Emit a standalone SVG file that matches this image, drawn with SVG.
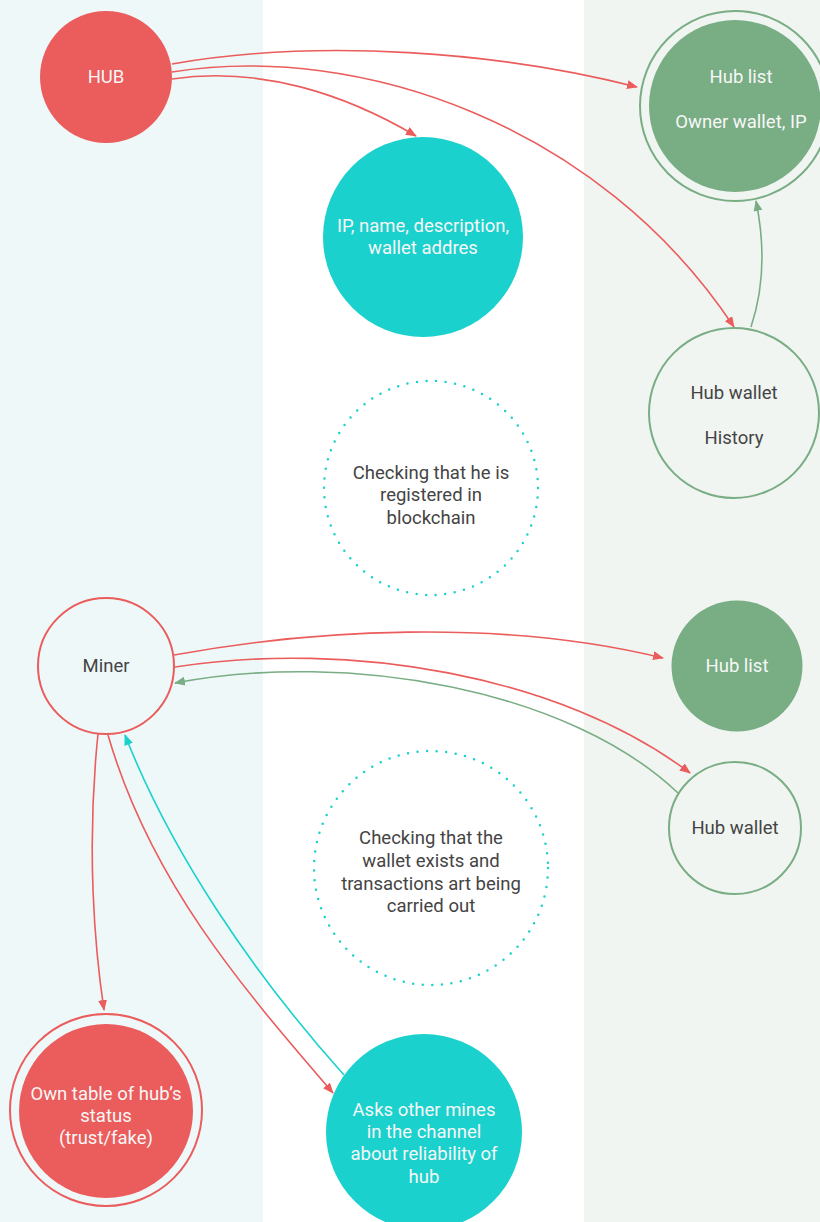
<svg xmlns="http://www.w3.org/2000/svg" width="820" height="1222" viewBox="0 0 820 1222">
<style>
text{font-family:Roboto,"Liberation Sans",sans-serif;font-size:18.5px;text-anchor:middle;dominant-baseline:central}
.w{fill:#f7f7f7}
.d{fill:#444444}
.red{fill:#eb5c5c}
.teal{fill:#1ad1cd}
.green{fill:#79ad84}
.ro{fill:none;stroke:#eb5c5c;stroke-width:2}
.go{fill:none;stroke:#79ad84;stroke-width:2}
.dot{fill:none;stroke:#1ad1cd;stroke-width:2.5;stroke-linecap:round;stroke-dasharray:0 9.6}
.cr{fill:none;stroke:#eb5c5c;stroke-width:1.6}
.cg{fill:none;stroke:#79ad84;stroke-width:1.6}
.ct{fill:none;stroke:#1ad1cd;stroke-width:1.6}
</style>
<defs>
<marker id="ar" markerWidth="11" markerHeight="9" refX="10" refY="4.5" orient="auto" markerUnits="userSpaceOnUse"><path d="M0,0 L11,4.5 L0,9 z" fill="#eb5c5c"/></marker>
<marker id="ag" markerWidth="11" markerHeight="9" refX="10" refY="4.5" orient="auto" markerUnits="userSpaceOnUse"><path d="M0,0 L11,4.5 L0,9 z" fill="#79ad84"/></marker>
<marker id="at" markerWidth="11" markerHeight="9" refX="10" refY="4.5" orient="auto" markerUnits="userSpaceOnUse"><path d="M0,0 L11,4.5 L0,9 z" fill="#1ad1cd"/></marker>
</defs>
<g id="bands">
<rect x="0" y="0" width="263" height="1222" fill="#eef8f9"/>
<rect x="263" y="0" width="321" height="1222" fill="#ffffff"/>
<rect x="584" y="0" width="236" height="1222" fill="#f0f5f2"/>
</g>
<g id="connectors">
<path class="cr" d="M172,64 C320,38 500,52 637,87" marker-end="url(#ar)"/>
<path class="cr" d="M172,72 C360,42 600,125 734,327" marker-end="url(#ar)"/>
<path class="cr" d="M172,79 C260,66 345,94 416,136" marker-end="url(#ar)"/>
<path class="cg" d="M751,327 C765,285 764,240 756,201" marker-end="url(#ag)"/>
<path class="cr" d="M174,655 C310,630 500,618 663,658" marker-end="url(#ar)"/>
<path class="cr" d="M175,667 C350,640 560,675 690,773" marker-end="url(#ar)"/>
<path class="cg" d="M678,793 C570,690 350,650 175,683" marker-end="url(#ag)"/>
<path class="cr" d="M98,734 C86,850 95,950 104,1010" marker-end="url(#ar)"/>
<path class="cr" d="M108,735 C150,880 240,985 333,1093" marker-end="url(#ar)"/>
<path class="ct" d="M344,1075 C250,970 170,850 125,735" marker-end="url(#at)"/>
</g>
<g id="hub">
<circle cx="106" cy="77" r="66" class="red"/>
<text x="106" y="77" class="w">HUB</text>
</g>
<g id="hub-info">
<circle cx="423" cy="237" r="100" class="teal"/>
<text x="423" y="226" class="w">IP, name, description,</text>
<text x="423" y="248" class="w">wallet addres</text>
</g>
<g id="hub-list-top">
<circle cx="735" cy="106" r="95" class="go"/>
<circle cx="735" cy="106" r="86" class="green"/>
<text x="741" y="77" class="w">Hub list</text>
<text x="741" y="122" class="w">Owner wallet, IP</text>
</g>
<g id="hub-wallet-top">
<circle cx="734" cy="413" r="85" class="go" fill="none"/>
<text x="734" y="393" class="d">Hub wallet</text>
<text x="734" y="438" class="d">History</text>
</g>
<g id="check-registered">
<circle cx="431" cy="488" r="107" class="dot"/>
<text x="431" y="473" class="d">Checking that he is</text>
<text x="431" y="495" class="d">registered in</text>
<text x="431" y="518" class="d">blockchain</text>
</g>
<g id="miner">
<circle cx="106" cy="666" r="68" class="ro"/>
<text x="106" y="666" class="d">Miner</text>
</g>
<g id="hub-list-bottom">
<circle cx="737" cy="666" r="65.5" class="green"/>
<text x="737" y="666" class="w">Hub list</text>
</g>
<g id="hub-wallet-bottom">
<circle cx="735" cy="828" r="66" class="go"/>
<text x="735" y="828" class="d">Hub wallet</text>
</g>
<g id="check-wallet">
<circle cx="431" cy="868" r="117" class="dot"/>
<text x="431" y="838" class="d">Checking that the</text>
<text x="431" y="861" class="d">wallet exists and</text>
<text x="431" y="884" class="d">transactions art being</text>
<text x="431" y="906" class="d">carried out</text>
</g>
<g id="own-table">
<circle cx="106" cy="1110" r="96" class="ro"/>
<circle cx="106" cy="1111" r="87" class="red"/>
<text x="106" y="1094" class="w">Own table of hub’s</text>
<text x="106" y="1116" class="w">status</text>
<text x="106" y="1138" class="w">(trust/fake)</text>
</g>
<g id="asks">
<circle cx="424" cy="1132" r="98" class="teal"/>
<text x="424" y="1110" class="w">Asks other mines</text>
<text x="424" y="1132" class="w">in the channel</text>
<text x="424" y="1154" class="w">about reliability of</text>
<text x="424" y="1177" class="w">hub</text>
</g>
</svg>
